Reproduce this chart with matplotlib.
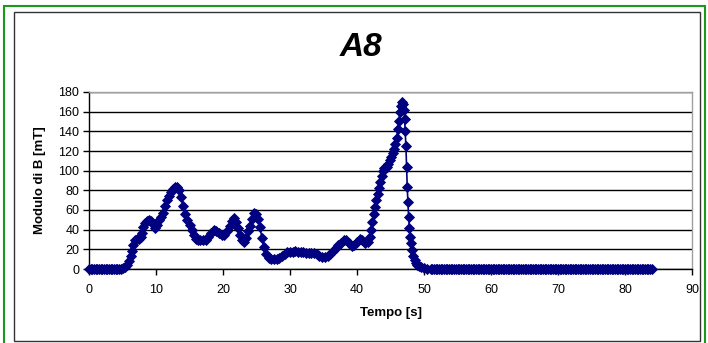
import numpy as np
import matplotlib
matplotlib.use("Agg")
import matplotlib.pyplot as plt
from matplotlib.patches import Rectangle

tempo_inizio = [0.0, 0.25, 0.5, 0.75, 1.0, 1.25, 1.5, 1.75, 2.0, 2.25, 2.5,
                2.75, 3.0, 3.25, 3.5, 3.75, 4.0, 4.25, 4.5]
modulo_inizio = [0] * len(tempo_inizio)

tempo_attivo = [
    4.8, 5.1, 5.4, 5.7, 6.0, 6.2, 6.4, 6.6, 6.8, 7.1, 7.4, 7.7, 7.9, 8.1, 8.4,
    8.7, 9.0, 9.3, 9.6, 9.9, 10.2, 10.5, 10.8, 11.1, 11.4, 11.7, 12.0, 12.3,
    12.6, 12.9, 13.2, 13.5, 13.8, 14.1, 14.4, 14.7, 15.0, 15.3, 15.6, 15.9,
    16.2, 16.6, 17.0, 17.4, 17.8, 18.2, 18.6, 19.0, 19.4, 19.8, 20.2, 20.6,
    21.0, 21.3, 21.6, 21.9, 22.2, 22.5, 22.8, 23.1, 23.4, 23.7, 24.0, 24.3,
    24.6, 24.9, 25.2, 25.5, 25.8, 26.1, 26.4, 26.8, 27.2, 27.6, 28.0, 28.4,
    28.8, 29.2, 29.6, 30.0, 30.4, 30.8, 31.2, 31.6, 32.0, 32.4, 32.8, 33.2,
    33.6, 34.0, 34.4, 34.8, 35.2, 35.6, 36.0, 36.4, 36.8, 37.2, 37.6, 38.0,
    38.4, 38.8, 39.2, 39.6, 40.0, 40.4, 40.8, 41.2, 41.6, 41.9, 42.1, 42.3,
    42.5, 42.7, 42.9, 43.1, 43.3, 43.5, 43.7, 43.9, 44.1, 44.3, 44.5, 44.7,
    44.9, 45.1, 45.3, 45.5, 45.7, 45.9, 46.1, 46.25, 46.4, 46.55, 46.7, 46.85,
    47.0, 47.1, 47.2, 47.3, 47.4, 47.5, 47.6, 47.7, 47.8, 47.9, 48.0, 48.2,
    48.4, 48.6, 48.8, 49.0, 49.3, 49.6, 50.0, 50.5,
]
modulo_attivo = [
    0.5, 1, 2, 4, 8, 13, 18, 24, 29, 31, 31, 33, 37, 43, 47,
    49, 50, 49, 46, 42, 45, 50, 53, 57, 64, 70, 74, 78,
    81, 83, 83, 80, 73, 64, 56, 50, 45, 40, 35, 31,
    29, 29, 29, 30, 33, 37, 40, 39, 37, 35, 35, 39,
    44, 49, 52, 48, 42, 35, 29, 27, 32, 39, 44, 51,
    57, 56, 51, 43, 32, 22, 15, 11, 10, 10, 10, 11,
    13, 15, 17, 17, 17, 18, 17, 17, 17, 16, 16, 16,
    16, 15, 13, 12, 12, 13, 15, 18, 21, 24, 26, 29,
    29, 26, 23, 24, 27, 31, 29, 26, 27, 33, 40, 48,
    56, 63, 70, 76, 82, 88, 95, 100, 103, 104, 104, 107,
    111, 114, 118, 122, 127, 133, 142, 150, 160, 166, 170, 168,
    162, 153, 140, 125, 104, 83, 68, 53, 42, 33, 26, 19,
    13, 9, 6, 4, 3, 2, 1, 0.5,
]

# coda piatta a zero fino a 84 s
tempo_coda = np.arange(51.0, 84.01, 0.25)
modulo_coda = np.zeros_like(tempo_coda)

tempo = np.concatenate([tempo_inizio, tempo_attivo, tempo_coda])
modulo = np.concatenate([modulo_inizio, modulo_attivo, modulo_coda])

x_ticks = [0, 10, 20, 30, 40, 50, 60, 70, 80, 90]
y_ticks = [0, 20, 40, 60, 80, 100, 120, 140, 160, 180]

W, H = 708, 343
fig = plt.figure(figsize=(W / 100, H / 100), dpi=100)
fig.patch.set_facecolor("white")

# cornici esterne (verde) e interna (nera)
fig.patches.append(Rectangle((3.5 / W, -0.02), (705 - 3.5) / W, 1 - 6 / H + 0.02,
                             transform=fig.transFigure, fill=False,
                             edgecolor="#1a9a1a", linewidth=1.5))
fig.patches.append(Rectangle((13.5 / W, 2 / H), (700 - 13.5) / W, 1 - 14 / H,
                             transform=fig.transFigure, fill=False,
                             edgecolor="#333333", linewidth=1.0))

ax = fig.add_axes([89 / W, 74 / H, 603 / W, 177 / H])
ax.plot(tempo, modulo, color="#000080", linewidth=1.2, marker="D",
        markersize=5, markeredgewidth=0.6, zorder=3, clip_on=False)

ax.set_xlim(0, 90)
ax.set_ylim(0, 180)
ax.set_xticks(x_ticks)
ax.set_yticks(y_ticks)
ax.yaxis.grid(True, color="black", linewidth=1.0)
ax.set_axisbelow(True)

for s in ["left", "bottom"]:
    ax.spines[s].set_color("black")
    ax.spines[s].set_linewidth(1.0)
for s in ["right", "top"]:
    ax.spines[s].set_color("#a0a0a0")
    ax.spines[s].set_linewidth(1.0)

ax.tick_params(axis="x", direction="out", length=4, width=1, pad=7,
               labelsize=9, colors="black")
ax.tick_params(axis="y", direction="out", length=4, width=1, pad=3,
               labelsize=9, colors="black")
for lab in ax.get_xticklabels() + ax.get_yticklabels():
    lab.set_fontfamily("Liberation Sans")

ax.set_xlabel("Tempo [s]", fontsize=9.5, fontweight="bold",
              fontfamily="Liberation Sans", labelpad=8)
ax.set_ylabel("Modulo di B [mT]", fontsize=9.5, fontweight="bold",
              fontfamily="Liberation Sans", labelpad=9)

fig.text(361 / W, 1 - 48 / H, "A8", ha="center", va="center", fontsize=24,
         fontweight="bold", fontstyle="italic", fontfamily="Liberation Sans")

fig.savefig("out.png", dpi=100)
